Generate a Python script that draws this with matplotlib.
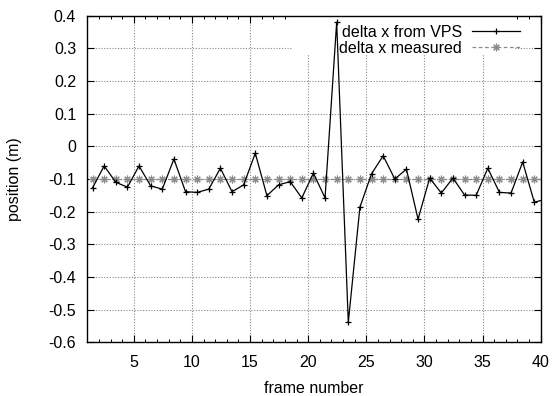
import numpy as np
import matplotlib
matplotlib.use("Agg")
import matplotlib.pyplot as plt
from matplotlib.patches import Rectangle
from matplotlib.ticker import MultipleLocator

plt.rcParams['font.family'] = ['Liberation Sans', 'DejaVu Sans']

frame = [1.45, 2.45, 3.45, 4.45, 5.45, 6.45, 7.45, 8.45, 9.45, 10.45,
         11.45, 12.45, 13.45, 14.45, 15.45, 16.45, 17.45, 18.45, 19.45, 20.45,
         21.45, 22.45, 23.45, 24.45, 25.45, 26.45, 27.45, 28.45, 29.45, 30.45,
         31.45, 32.45, 33.45, 34.45, 35.45, 36.45, 37.45, 38.45, 39.45, 40.45]
dx_vps = [-0.127, -0.060, -0.110, -0.125, -0.060, -0.121, -0.131, -0.039, -0.139, -0.141,
          -0.131, -0.067, -0.139, -0.118, -0.021, -0.151, -0.118, -0.108, -0.158, -0.082,
          -0.158, 0.380, -0.539, -0.186, -0.084, -0.029, -0.100, -0.070, -0.223, -0.097,
          -0.143, -0.097, -0.149, -0.150, -0.067, -0.141, -0.143, -0.048, -0.171, -0.162]
dx_measured = [-0.1] * 40

x_ticks = [5, 10, 15, 20, 25, 30, 35, 40]
y_ticks = [0.4, 0.3, 0.2, 0.1, 0.0, -0.1, -0.2, -0.3, -0.4, -0.5, -0.6]
y_ticklabels = ['0.4', '0.3', '0.2', '0.1', '0', '-0.1', '-0.2', '-0.3', '-0.4', '-0.5', '-0.6']

W, H = 553, 396
fig = plt.figure(figsize=(W / 100, H / 100), dpi=100)
L, R, T, B = 87.3, 540.7, 15.7, 342.3
ax = fig.add_axes([L / W, 1 - B / H, (R - L) / W, (B - T) / H])

fs = 11.5
ax.set_axisbelow(True)
ax.grid(True, which='major', color='#888888', linestyle=(0, (1, 1.5)), linewidth=0.8)

# white key area (like gnuplot's key box)
ax.add_patch(Rectangle((0.4537, 0.8797), 0.4894, 0.1203, transform=ax.transAxes,
                       facecolor='white', edgecolor='none', zorder=1))

ax.plot(frame, dx_measured, color='#8a8a8a', linestyle=(0, (3, 2)), linewidth=0.9,
        marker=(8, 2, 0), markersize=5.5, markeredgewidth=0.8, label='delta x measured', zorder=2)
ax.plot(frame, dx_vps, color='black', linestyle='-', linewidth=0.9,
        marker='+', markersize=5, markeredgewidth=0.9, label='delta x from VPS', zorder=3)

ax.set_xlim(1, 40)
ax.set_ylim(-0.6, 0.4)
ax.set_xticks(x_ticks)
ax.set_yticks(y_ticks)
ax.set_yticklabels(y_ticklabels)
ax.xaxis.set_minor_locator(MultipleLocator(1))
ax.tick_params(which='both', direction='in', top=True, right=True, labelsize=fs, colors='black')
ax.tick_params(which='major', length=5, width=0.8, pad=8)
ax.tick_params(which='minor', length=2.5, width=0.7)
ax.tick_params(axis='x', which='major', pad=9)
for s in ax.spines.values():
    s.set_linewidth(1.0)

ax.set_xlabel('frame number', fontsize=fs, labelpad=8)
ax.set_ylabel('position (m)', fontsize=fs, labelpad=19)

handles, labels = ax.get_legend_handles_labels()
leg = ax.legend(handles[::-1], labels[::-1], loc='upper right',
                bbox_to_anchor=(0.9543, 0.9724), borderaxespad=0, borderpad=0,
                frameon=False, markerfirst=False, fontsize=fs, handlelength=3.0,
                handletextpad=0.63, labelspacing=0.05)
leg.set_zorder(1.5)

fig.savefig('out.png', dpi=100)
